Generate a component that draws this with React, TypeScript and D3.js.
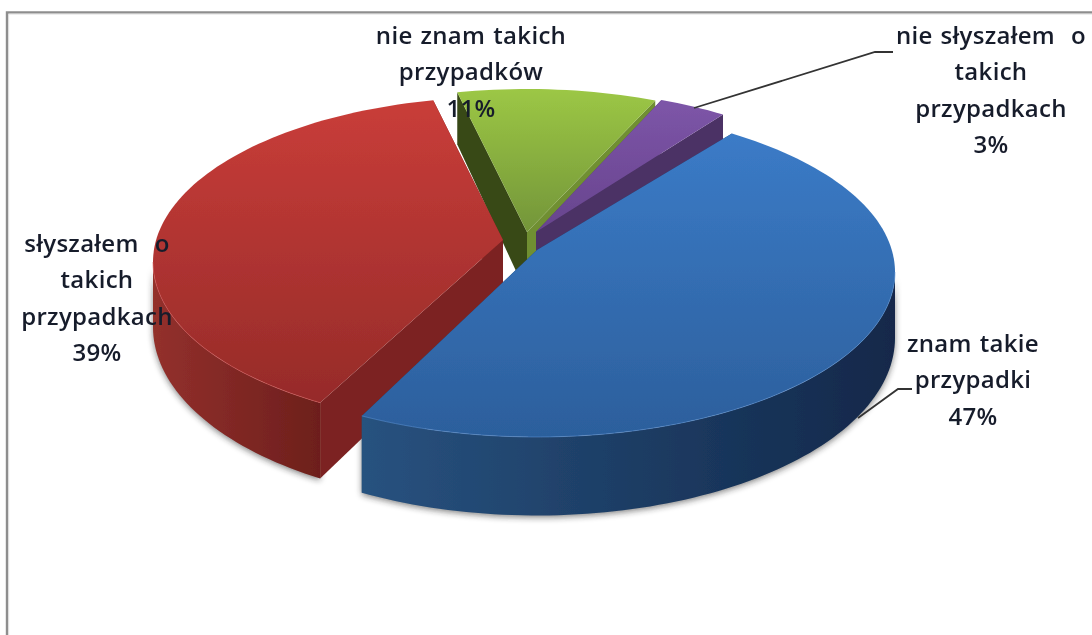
import React from "react";
import * as d3 from "d3";

// ---- data ----
const categories = ["znam takie przypadki", "słyszałem o takich przypadkach", "nie znam takich przypadków", "nie słyszałem o takich przypadkach"];
const values = [47, 39, 11, 3];
const labelLines = [
  ["znam takie", "przypadki", "47%"],
  ["słyszałem  o", "takich", "przypadkach", "39%"],
  ["nie znam takich", "przypadków", "11%"],
  ["nie słyszałem  o", "takich", "przypadkach", "3%"],
];

// ---- layout and style ----
const W = 1092, H = 635;
const FONT = "'Open Sans', sans-serif";
const apexes: [number, number][] = [[537, 250], [503, 240], [527, 232], [536, 232]];
const RX = [358, 350, 350, 350];
const RY = 165;
const CENTER_DROP = 22;
const startNudge = [0, 2.2, 0, -0.5];
const endNudge = [0, 0, 0, -0.7];
const labelAnchors: [number, number][] = [[973, 352], [97, 252], [471, 44], [991, 44]];
const LINE_H = 36.3;
const topColors = [["#3b7bc7", "#2c5f9c"], ["#c93d39", "#962b29"], ["#9cc745", "#739539"], ["#7d55a8", "#67448d"]];
const wallColors = [["#28527f", "#12284a"], ["#93302c", "#6d1f1c"], ["#3b4b19", "#3b4b19"], ["#4e3369", "#4e3369"]];
const startFace = ["#1d3c63", "#7c2421", "#394917", "#4e3369"];
const endFace = ["#1d3c63", "#7c2421", "#6f8f30", "#4b3165"];
const rimLight = ["#5b92d6", "#d8595a", "none", "none"];
const leaders: [number, number][][] = [
  [[858, 418], [898, 389], [912, 389]],
  [],
  [],
  [[694, 108], [875, 52], [893, 52]],
];

const rad = (d: number) => (d * Math.PI) / 180;
const START = rad(33);
const arcs = d3.pie<number>().sort(null).startAngle(START).endAngle(START + 2 * Math.PI)(values);
// the chart's perspective stretches near angles and squeezes far ones:
// each slice boundary lands at the ellipse angle seen in the picture
const warp = d3.scaleLinear()
  .domain([START, arcs[0].endAngle, arcs[1].endAngle, arcs[2].endAngle, arcs[3].endAngle])
  .range([rad(33), rad(209.3), rad(348.5), rad(381.5), rad(393)]);
const depthY = d3.scaleLinear().domain([94, 437]).range([52, 78.5]);
const line = d3.line();

function project(i: number, phi: number): [number, number] {
  const [ax, ay] = apexes[i];
  return [ax + RX[i] * Math.sin(phi), ay + CENTER_DROP - RY * Math.cos(phi)];
}
const drop = (p: [number, number]): [number, number] => [p[0], p[1] + depthY(p[1])];
function sample(i: number, a: number, b: number): [number, number][] {
  const n = Math.max(2, Math.ceil((b - a) / rad(1.5)));
  return d3.range(n + 1).map((k) => project(i, a + ((b - a) * k) / n));
}

export default function App() {
  const slices = arcs.map((arc, i) => {
    const a = warp(arc.startAngle) + rad(startNudge[i]), b = warp(arc.endAngle) + rad(endNudge[i]);
    const apex = apexes[i];
    const rim = sample(i, a, b);
    const top = line([apex, ...rim])! + "Z";
    const face = (p: [number, number]) => line([apex, p, drop(p), drop(apex)])! + "Z";
    const va = Math.max(a, Math.PI / 2), vb = Math.min(b, 1.5 * Math.PI);
    const outer = vb > va ? sample(i, va, vb) : [];
    const wall = outer.length ? line([...outer, ...outer.map(drop).reverse()])! + "Z" : null;
    const rimFront = outer.length ? line(outer)! : null;
    const xs = outer.map((p) => p[0]);
    const [wx0, wx1] = xs.length ? (d3.extent(xs) as [number, number]) : [0, 1];
    const ys = rim.map((p) => p[1]).concat(apex[1]);
    const [ty0, ty1] = d3.extent(ys) as [number, number];
    return { i, top, wall, rimFront, startF: face(rim[0]), endF: face(rim[rim.length - 1]), wx0, wx1, ty0, ty1 };
  });

  return (
    <svg width={W} height={H} style={{ position: "absolute", left: 0, top: 0, display: "block", background: "#fff" }}>
      <defs>
        <filter id="soft" x="-5%" y="-5%" width="110%" height="110%"><feGaussianBlur stdDeviation="0.7" /></filter>
        <filter id="softText" x="-5%" y="-5%" width="110%" height="110%"><feGaussianBlur stdDeviation="0.35" /></filter>
        <filter id="shadow" x="-10%" y="-10%" width="120%" height="125%"><feGaussianBlur stdDeviation="3" /></filter>
        {slices.map((s) => (
          <React.Fragment key={s.i}>
            <linearGradient id={`top${s.i}`} gradientUnits="userSpaceOnUse" x1={0} x2={0} y1={s.ty0} y2={s.ty1}>
              <stop offset="0" stopColor={topColors[s.i][0]} />
              <stop offset="1" stopColor={topColors[s.i][1]} />
            </linearGradient>
            <linearGradient id={`wall${s.i}`} gradientUnits="userSpaceOnUse" x1={s.wx0} x2={s.wx1} y1={0} y2={0}>
              <stop offset="0" stopColor={wallColors[s.i][0]} />
              <stop offset="1" stopColor={wallColors[s.i][1]} />
            </linearGradient>
          </React.Fragment>
        ))}
      </defs>

      <path d={`M7 ${H}V12.5H${W}`} fill="none" stroke="#8e8e8e" strokeWidth={2.4} />
      <path d={`M8.6 ${H}V14H${W}`} fill="none" stroke="#dedede" strokeWidth={1} />

      <g filter="url(#shadow)" opacity={0.55}>
        {[1, 0].map((i) => slices[i].wall && <path key={i} d={slices[i].wall!} fill="#222" transform="translate(0,2)" />)}
      </g>

      <g filter="url(#soft)">
        {[2, 3, 1, 0].map((i) => {
          const s = slices[i];
          return (
            <g key={i}>
              <path d={s.startF} fill={startFace[i]} />
              <path d={s.endF} fill={endFace[i]} />
              {s.wall && <path d={s.wall} fill={`url(#wall${i})`} />}
              <path d={s.top} fill={`url(#top${i})`} />
              {s.rimFront && rimLight[i] !== "none" && (
                <path d={s.rimFront} fill="none" stroke={rimLight[i]} strokeWidth={1} strokeOpacity={0.55} />
              )}
            </g>
          );
        })}
      </g>

      {leaders.map((pts, i) => pts.length > 0 && (
        <path key={i} d={line(pts)!} fill="none" stroke="#333" strokeWidth={1.8} />
      ))}

      <g filter="url(#softText)" fontFamily={FONT} fontSize={24} fontWeight={600} fill="#171c2c" textAnchor="middle" letterSpacing={0.3} wordSpacing={1.5}>
        {labelLines.map((lines, i) => (
          <text key={categories[i]} style={{ whiteSpace: "pre" }}>
            {lines.map((t, k) => (
              <tspan key={k} x={labelAnchors[i][0]} y={labelAnchors[i][1] + k * LINE_H}>{t}</tspan>
            ))}
          </text>
        ))}
      </g>
    </svg>
  );
}
